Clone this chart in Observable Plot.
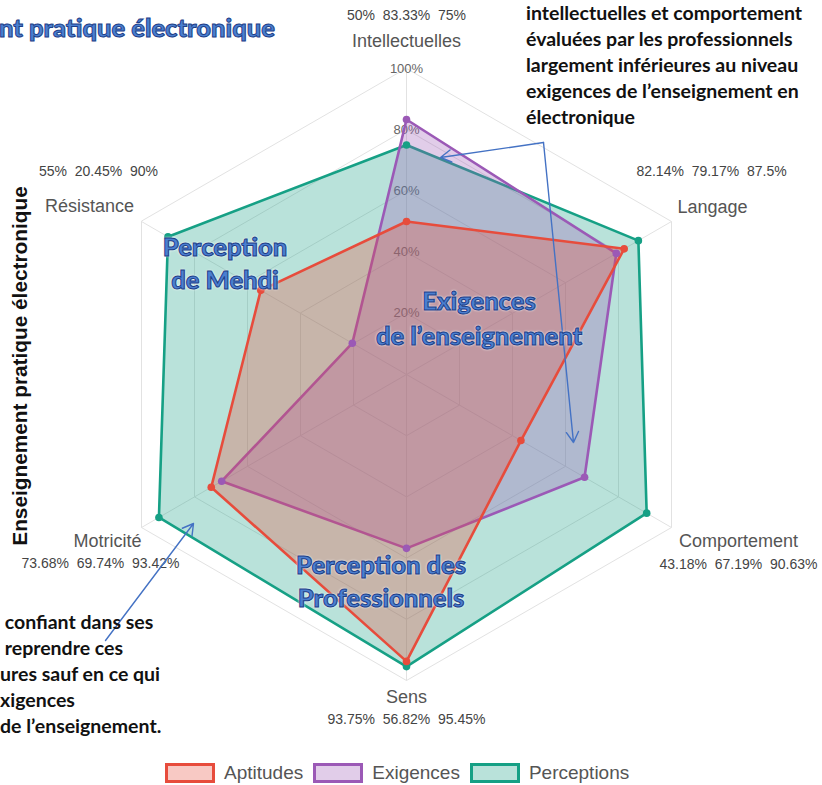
<!DOCTYPE html>
<html><head><meta charset="utf-8">
<script src="https://cdn.jsdelivr.net/npm/d3@7"></script>
<script src="https://cdn.jsdelivr.net/npm/@observablehq/plot@0.6"></script>
<style>
body{margin:0;background:#fff;}
#wrap{position:relative;width:822px;height:785px;overflow:hidden;font-family:"Liberation Sans",Arial,sans-serif;}
#chart{position:absolute;left:0;top:0;}
#chart text{white-space:pre;}
.note{position:absolute;font-family:Lato,sans-serif;font-weight:700;font-size:19.5px;line-height:26px;color:#111;white-space:pre;}
.blue{position:absolute;transform:translate(-50%,-50%);font-family:Lato,sans-serif;font-weight:900;font-size:25.5px;line-height:22px;color:#4a7fd0;text-align:center;white-space:nowrap;-webkit-text-stroke:1px #1d3d87;text-shadow:0 0 2px #fff,0 0 3px #fff;}
.title{position:absolute;left:-1px;top:12px;font-family:Lato,sans-serif;font-weight:900;font-size:25.5px;color:#4a7fd0;-webkit-text-stroke:1px #1d3d87;white-space:nowrap;}
.vtitle{position:absolute;left:20px;top:366px;transform:translate(-50%,-50%) rotate(-90deg);font-family:"Liberation Sans",Arial,sans-serif;font-weight:700;font-size:20.8px;color:#111;white-space:nowrap;}
#legend{position:absolute;left:165px;top:763px;display:flex;align-items:center;height:20px;}
#legend .item{display:flex;align-items:center;margin-right:10px;}
#legend .box{box-sizing:border-box;width:50px;height:20px;border:3px solid;}
#legend .lab{margin-left:9px;font-size:19px;color:#555;}
</style></head>
<body><div id="wrap"></div>
<script>
// ---- data ----
const axes = ["Intellectuelles","Langage","Comportement","Sens","Motricité","Résistance"];
const aptitudes   = [50, 82.14, 43.18, 93.75, 73.68, 55];
const exigences   = [83.33, 79.17, 67.19, 56.82, 69.74, 20.45];
const perceptions = [75, 87.5, 90.63, 95.45, 93.42, 90];
const seriesNames = ["Aptitudes","Exigences","Perceptions"];
const seriesColors = ["#e74c3c","#9b59b6","#16a085"];
const gridLevels = [20,40,60,80,100];

// ---- layout ----
const W = 822, H = 750, CX = 406, CY = 374, R = 306;
// pixel offsets of axis label / values line from the outer vertex
const labelOffsets = [
  {dx:0,dy:-27,vdx:0,vdy:-53},
  {dx:41,dy:-14,vdx:40,vdy:-50},
  {dx:67,dy:14,vdx:67,vdy:37},
  {dx:0,dy:17,vdx:0,vdy:39},
  {dx:-34,dy:14,vdx:-41,vdy:36},
  {dx:-52,dy:-15,vdx:-43,vdy:-50}
];
const n = axes.length;
const ang = i => i * 2 * Math.PI / n;
const vx = (i, v) => v / 100 * Math.sin(ang(i));
const vy = (i, v) => v / 100 * Math.cos(ang(i));
const ux = px => (px - CX) / R, uy = py => (CY - py) / R;

const seriesValues = [aptitudes, exigences, perceptions];
const points = [];
seriesNames.forEach((s, k) => seriesValues[k].forEach((v, i) => points.push({series: s, k, i, v})));
const grid = [];
gridLevels.forEach(l => axes.forEach((a, i) => grid.push({l, i})));

const arrows = [
  {x1: 543, y1: 142, x2: 440, y2: 157},
  {x1: 543, y1: 142, x2: 573, y2: 442},
  {x1: 105, y1: 640, x2: 193, y2: 523}
];

const drawOrder = [2, 1, 0];
const marks = [
  Plot.link(axes, {x1: 0, y1: 0, x2: (d, i) => vx(i, 100), y2: (d, i) => vy(i, 100), stroke: "#e2e2e2", strokeWidth: 1}),
  Plot.line(grid, {x: d => vx(d.i, d.l), y: d => vy(d.i, d.l), z: "l", curve: "linear-closed", stroke: "#e2e2e2", strokeWidth: 1}),
  Plot.text(gridLevels, {x: 0, y: d => d / 100, text: d => d + "%", fill: "#666", fontSize: 13})
];
for (const k of drawOrder) {
  const data = points.filter(p => p.k === k);
  marks.push(Plot.line(data, {x: d => vx(d.i, d.v), y: d => vy(d.i, d.v), curve: "linear-closed",
    fill: seriesColors[k], fillOpacity: 0.3, stroke: seriesColors[k], strokeWidth: 2.6}));
}
for (const k of drawOrder) {
  const data = points.filter(p => p.k === k);
  marks.push(Plot.dot(data, {x: d => vx(d.i, d.v), y: d => vy(d.i, d.v), r: 3.8, fill: seriesColors[k]}));
}
marks.push(
  Plot.text(axes, {x: (d, i) => vx(i, 100) + labelOffsets[i].dx / R, y: (d, i) => vy(i, 100) - labelOffsets[i].dy / R,
    text: d => d, fontSize: 18, fill: "#555"}),
  Plot.text(axes, {x: (d, i) => vx(i, 100) + labelOffsets[i].vdx / R, y: (d, i) => vy(i, 100) - labelOffsets[i].vdy / R,
    text: (d, i) => `${aptitudes[i]}%  ${exigences[i]}%  ${perceptions[i]}%`, fontSize: 14, fill: "#444"}),
  Plot.arrow(arrows, {x1: d => ux(d.x1), y1: d => uy(d.y1), x2: d => ux(d.x2), y2: d => uy(d.y2),
    stroke: "#4472c4", strokeWidth: 1.4, headLength: 13})
);

const chart = Plot.plot({
  width: W, height: H, margin: 0,
  x: {domain: [ux(0), ux(W)], axis: null},
  y: {domain: [uy(H), uy(0)], axis: null},
  style: {fontFamily: "'Liberation Sans', Arial, sans-serif", background: "transparent", overflow: "visible"},
  marks
});
chart.id = "chart";
const wrap = document.getElementById("wrap");
wrap.appendChild(chart);

// ---- annotations ----
function addDiv(cls, html, style) {
  const d = document.createElement("div");
  d.className = cls; d.innerHTML = html;
  Object.assign(d.style, style || {});
  wrap.appendChild(d);
  return d;
}
addDiv("title", "nt pratique électronique");
addDiv("vtitle", "Enseignement pratique électronique");
addDiv("note", "intellectuelles et comportement\névaluées par les professionnels\nlargement inférieures au niveau\nexigences de l’enseignement en\nélectronique", {left: "526px", top: "0px"});
addDiv("note", " confiant dans ses\n reprendre ces\nures sauf en ce qui\nxigences\nde l’enseignement.", {left: "0px", top: "609px"});
const blueLabels = [
  {t: "Perception", x: 225, y: 246}, {t: "de Mehdi", x: 225, y: 279},
  {t: "Exigences", x: 479, y: 300}, {t: "de l’enseignement", x: 479, y: 335},
  {t: "Perception des", x: 381, y: 564}, {t: "Professionnels", x: 381, y: 597}
];
blueLabels.forEach(b => addDiv("blue", b.t, {left: b.x + "px", top: b.y + "px"}));

// ---- legend ----
const legend = document.createElement("div");
legend.id = "legend";
seriesNames.forEach((s, k) => {
  const it = document.createElement("div"); it.className = "item";
  const b = document.createElement("div"); b.className = "box";
  b.style.borderColor = seriesColors[k];
  const c = d3.color(seriesColors[k]); c.opacity = 0.3;
  b.style.background = c.formatRgb();
  const l = document.createElement("span"); l.className = "lab"; l.textContent = s;
  it.appendChild(b); it.appendChild(l); legend.appendChild(it);
});
wrap.appendChild(legend);
</script></body></html>
